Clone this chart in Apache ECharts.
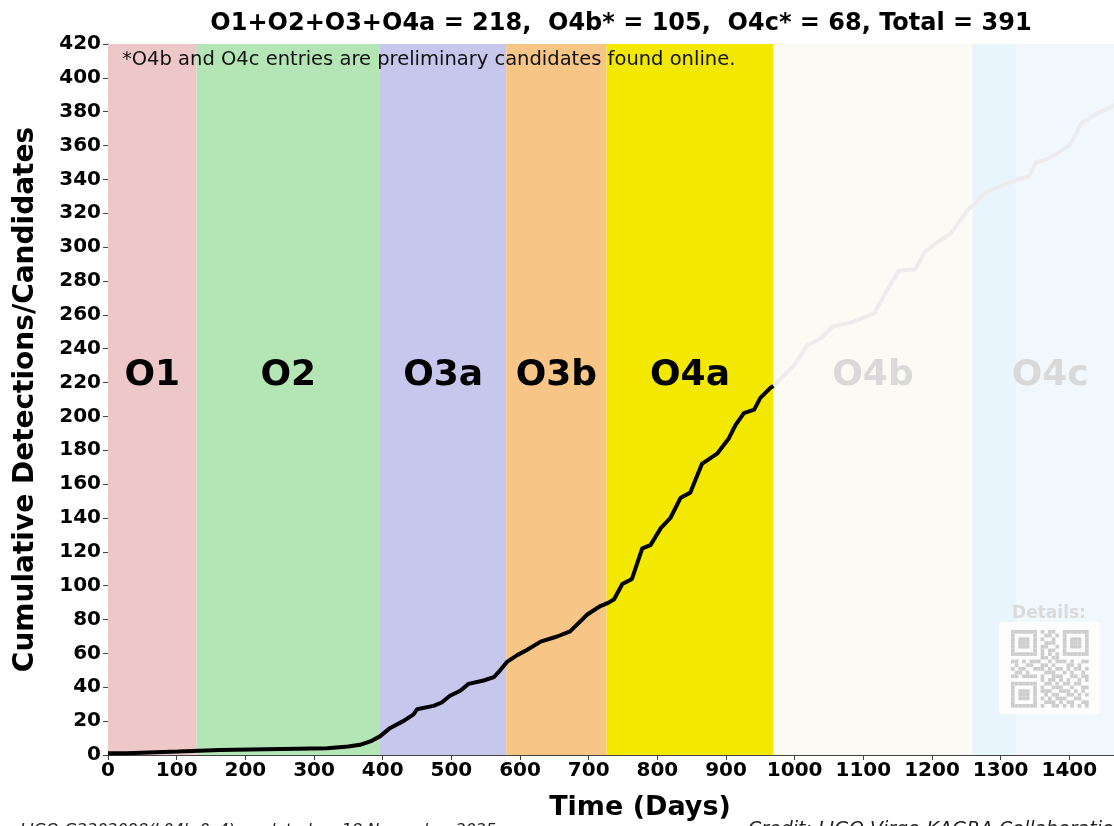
<!DOCTYPE html>
<html>
<head>
    <meta charset="utf-8">
    <title>Cumulative detections</title>
    <script src="https://cdn.jsdelivr.net/npm/echarts@6/dist/echarts.min.js"></script>
    <style>
        html, body { margin: 0; padding: 0; background: #fff; }
        #chart1 { width: 1114px; height: 826px; }
    </style>
</head>
<body>
<div id="chart1"></div>
<script>
    // observing runs (days since start of O1)
    var bandNames = ['O1', 'O2', 'O3a', 'O3b', 'O4a', 'O4b', 'O4c', ''];
    var bandStart = [0, 129, 396, 580, 726, 969, 1259, 1259];
    var bandEnd = [129, 396, 580, 726, 969, 1259, 1485, 1322];
    var bandColors = ['#eec8c8', '#b4e5b4', '#c7c7ed', '#f7c585', '#f3e800', '#fcfaf4', '#f0f8fd', '#e9f5fd'];
    var labelColors = ['#000', '#000', '#000', '#000', '#000', '#d9d9d9', '#d9d9d9', '#000'];

    // confirmed detections O1..O4a
    var detDays = [0, 27, 28, 102, 103, 163, 164, 319, 320, 350, 367, 382, 396, 411, 430, 445, 450, 474, 486, 498, 513, 525, 547, 562, 571, 581,
        596, 610, 630, 654, 673, 683, 698, 717, 729, 737, 749, 763, 778, 790, 805, 819, 834, 848, 865, 887, 904, 914, 926, 941, 950, 965, 969];
    var detCount = [1, 1, 2, 2, 3, 3, 4, 4, 5, 5, 6, 8, 11, 16, 20, 24, 27, 29, 31, 35, 38, 42, 44, 46, 50, 55,
        59, 62, 67, 70, 73, 77, 83, 88, 90, 92, 101, 104, 122, 124, 134, 140, 152, 155, 172, 178, 187, 195, 202, 204, 211, 217, 218];

    // preliminary candidates O4b, O4c
    var candDays = [969, 999, 1018, 1038, 1055, 1086, 1116, 1138, 1152, 1176, 1189, 1208, 1227, 1252, 1261, 1276, 1300, 1325, 1342, 1351,
        1368, 1388, 1402, 1417, 1436, 1466];
    var candCount = [218, 230, 242, 246, 253, 256, 261, 277, 286, 287, 297, 303, 308, 322, 325, 332, 336, 340, 342, 350,
        352, 357, 361, 373, 378, 384];

    var xTicks = [0, 1465, 100];   // min, max, step
    var yTicks = [0, 420, 20];

    var titleText = 'O1+O2+O3+O4a = 218,  O4b* = 105,  O4c* = 68, Total = 391';
    var noteText = '*O4b and O4c entries are preliminary candidates found online.';

    var qrRows = [
        '111111101011001111111',
        '100000100110101000001',
        '101110101001001011101',
        '101110100111001011101',
        '101110101100101011101',
        '100000101011001000001',
        '111111101010101111111',
        '000000001101100000000',
        '110101110010111010011',
        '010011001101000110100',
        '101100111010110101101',
        '011010000111001010010',
        '110111101001110011011',
        '000000001011010100101',
        '111111100110101101100',
        '100000101001110010011',
        '101110101110011101010',
        '101110100101100110101',
        '101110101010111001100',
        '100000100111010110011',
        '111111101001101010101'
    ];

    function zip(a, b) {
        var out = [];
        for (var i = 0; i < a.length; i++) out.push([a[i], b[i]]);
        return out;
    }

    var areas = [];
    var labels = [];
    for (var i = 0; i < bandNames.length; i++) {
        areas.push([{xAxis: bandStart[i], itemStyle: {color: bandColors[i], opacity: 1}}, {xAxis: bandEnd[i]}]);
        if (bandNames[i]) {
            labels.push({
                value: [(bandStart[i] + bandEnd[i]) / 2, 224],
                label: {formatter: bandNames[i], color: labelColors[i]}
            });
        }
    }

    var graphics = [
        {type: 'text', x: 122, y: 60, style: {text: noteText, fontSize: 19.5, fontFamily: 'DejaVu Sans', fill: '#111', verticalAlign: 'middle'}, z: 100},
        {type: 'text', x: 20, y: 831, style: {text: 'LIGO-G2302098(L04b-0c4), updated on 18 November 2025', fontSize: 16, fontStyle: 'italic', fontFamily: 'DejaVu Sans', fill: '#222', verticalAlign: 'middle'}, z: 100},
        {type: 'text', x: 748, y: 830, style: {text: 'Credit: LIGO-Virgo-KAGRA Collaboration', fontSize: 19, fontStyle: 'italic', fontFamily: 'DejaVu Sans', fill: '#222', verticalAlign: 'middle'}, z: 100},
        {type: 'text', x: 1049, y: 614, style: {text: 'Details:', fontSize: 17, fontWeight: 'bold', fontFamily: 'DejaVu Sans', fill: '#dadada', align: 'center', verticalAlign: 'middle'}, z: 100},
        {type: 'rect', shape: {x: 999, y: 622, width: 101, height: 92, r: 4}, style: {fill: '#fdfdfd'}, z: 99}
    ];
    var cell = 3.7;
    for (var r = 0; r < qrRows.length; r++) {
        for (var c = 0; c < qrRows[r].length; c++) {
            if (qrRows[r][c] === '1') {
                graphics.push({type: 'rect', shape: {x: 1011 + c * cell, y: 630 + r * cell, width: cell, height: cell},
                    style: {fill: '#cdcdcd'}, z: 100});
            }
        }
    }

    var myChart1 = echarts.init(document.getElementById('chart1'));
    myChart1.setOption({
        animation: false,
        backgroundColor: '#fff',
        textStyle: {fontFamily: 'DejaVu Sans'},
        title: {
            text: titleText,
            left: 616,
            top: 7,
            textAlign: 'center',
            textStyle: {fontSize: 24, fontWeight: 'bold', color: '#000', fontFamily: 'DejaVu Sans'}
        },
        grid: {left: 108, right: 0, top: 44, bottom: 69},
        xAxis: [{
            type: 'value',
            min: xTicks[0],
            max: xTicks[1],
            interval: xTicks[2],
            name: 'Time (Days)',
            nameLocation: 'middle',
            nameGap: 39,
            nameTextStyle: {fontSize: 27, fontWeight: 'bold', color: '#000', fontFamily: 'DejaVu Sans', padding: [0, 0, 0, 58]},
            splitLine: {show: false},
            axisLine: {lineStyle: {color: '#444', width: 1}},
            axisTick: {length: 5, lineStyle: {color: '#444'}},
            axisLabel: {fontSize: 20, fontWeight: 'bold', color: '#000', margin: 6, showMaxLabel: false,
                formatter: function (v) { return String(v); }}
        }, {
            type: 'value',
            position: 'top',
            min: xTicks[0],
            max: xTicks[1],
            axisLine: {show: true, lineStyle: {color: '#555', width: 1}},
            axisTick: {show: false},
            axisLabel: {show: false},
            splitLine: {show: false}
        }],
        yAxis: {
            type: 'value',
            min: yTicks[0],
            max: yTicks[1],
            interval: yTicks[2],
            name: 'Cumulative Detections/Candidates',
            nameLocation: 'middle',
            nameGap: 68,
            nameRotate: 90,
            nameTextStyle: {fontSize: 28, fontWeight: 'bold', color: '#000', fontFamily: 'DejaVu Sans'},
            splitLine: {show: false},
            axisLine: {show: true, lineStyle: {color: '#5a3a3a', width: 1}},
            axisTick: {show: true, length: 5, lineStyle: {color: '#444'}},
            axisLabel: {fontSize: 20, fontWeight: 'bold', color: '#000', margin: 7}
        },
        graphic: graphics,
        series: [
            {
                name: 'runs',
                type: 'line',
                data: [],
                silent: true,
                z: 1,
                markArea: {silent: true, data: areas}
            },
            {
                name: 'candidates',
                type: 'line',
                data: zip(candDays, candCount),
                symbol: 'none',
                z: 3,
                lineStyle: {color: '#ececec', width: 4}
            },
            {
                name: 'detections',
                type: 'line',
                data: zip(detDays, detCount),
                symbol: 'none',
                z: 4,
                lineStyle: {color: '#000', width: 4}
            },
            {
                name: 'run labels',
                type: 'scatter',
                data: labels,
                symbolSize: 0,
                silent: true,
                z: 5,
                itemStyle: {opacity: 1},
                label: {show: true, position: 'inside', fontSize: 36, fontWeight: 'bold', fontFamily: 'DejaVu Sans', opacity: 1}
            }
        ]
    });
</script>
</body>
</html>
